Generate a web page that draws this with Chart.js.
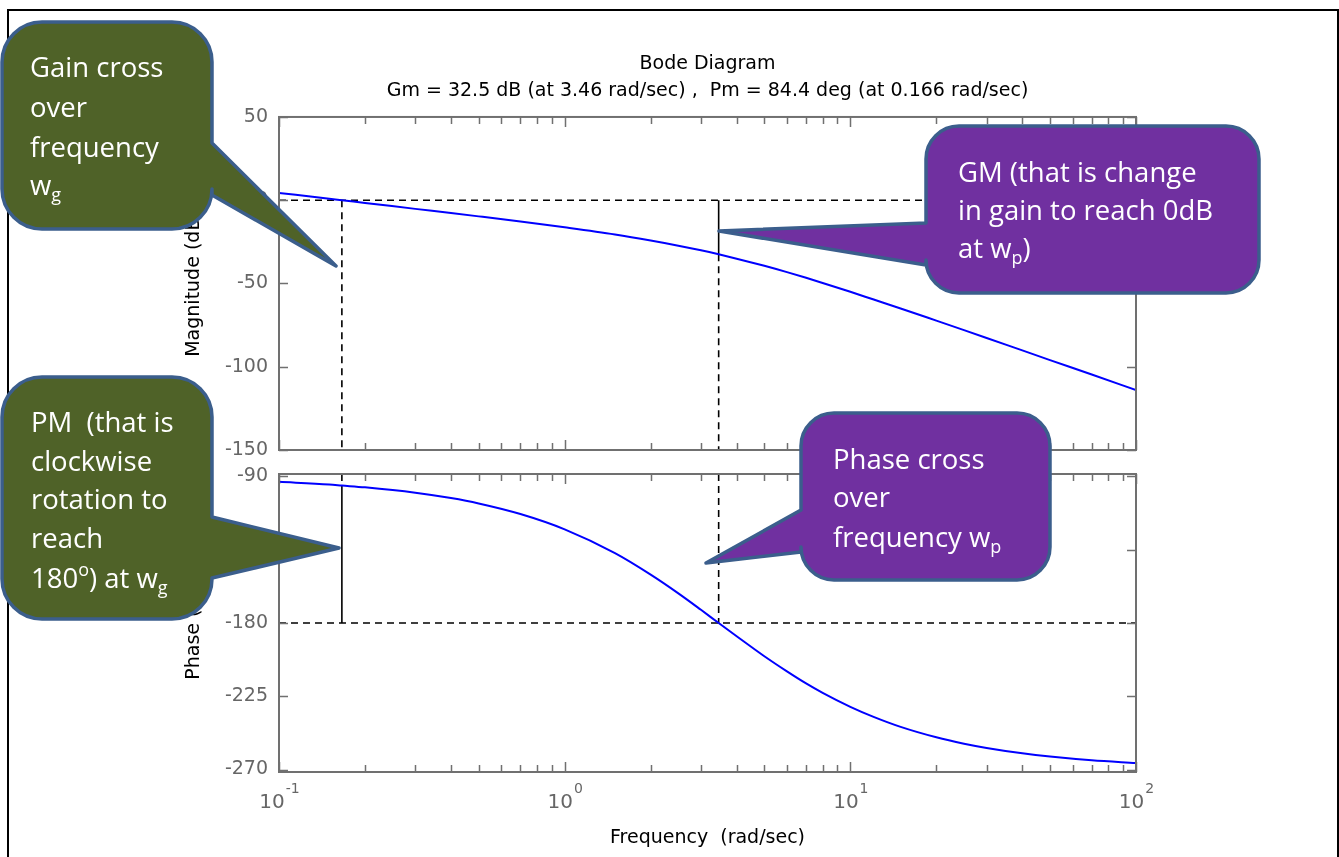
<!DOCTYPE html>
<html>
<head>
<meta charset="utf-8">
<title>Bode Diagram</title>
<script src="https://cdn.jsdelivr.net/npm/chart.js@4.4.0/dist/chart.umd.min.js"></script>
<style>
  html, body { margin: 0; padding: 0; background: #fff; }
  #page { position: relative; width: 1339px; height: 857px; overflow: hidden; }
  #frame { position: absolute; left: 7px; top: 9px; width: 1332px; height: 900px;
           border: 2px solid #000; box-sizing: border-box; }
  #magChart { position: absolute; left: 0; top: 0; }
  #phaseChart { position: absolute; left: 0; top: 440px; }
  #notes { position: absolute; left: 0; top: 0; }
  #notes text { font-family: "Open Sans", sans-serif; font-size: 27.5px; fill: #fff; white-space: pre; }
</style>
</head>
<body>
<div id="page">
  <div id="frame"></div>
  <canvas id="magChart" width="1339" height="475"></canvas>
  <canvas id="phaseChart" width="1339" height="417"></canvas>
  <svg id="notes" width="1339" height="857">
    <path id="noteGain" fill="#4f6228" stroke="#3b5e8c" stroke-width="3.5" stroke-linejoin="round"/>
    <path id="notePm" fill="#4f6228" stroke="#3b5e8c" stroke-width="3.5" stroke-linejoin="round"/>
    <path id="noteGm" fill="#7030a0" stroke="#3b5e8c" stroke-width="3.5" stroke-linejoin="round"/>
    <path id="notePhase" fill="#7030a0" stroke="#3b5e8c" stroke-width="3.5" stroke-linejoin="round"/>

    <text x="30" y="77">Gain cross</text>
    <text x="30" y="117">over</text>
    <text x="30" y="157">frequency</text>
    <text x="30" y="195">w<tspan font-size="18" dy="6">g</tspan></text>

    <text x="31" y="432">PM  (that is</text>
    <text x="31" y="471">clockwise</text>
    <text x="31" y="509">rotation to</text>
    <text x="31" y="548">reach</text>
    <text x="31" y="588">180<tspan font-size="18" dy="-12">o</tspan><tspan dy="12">) at w</tspan><tspan font-size="18" dy="6">g</tspan></text>

    <text x="958" y="182">GM (that is change</text>
    <text x="958" y="220">in gain to reach 0dB</text>
    <text x="958" y="258">at w<tspan font-size="18" dy="6">p</tspan><tspan dy="-6">)</tspan></text>

    <text x="833" y="469">Phase cross</text>
    <text x="833" y="507">over</text>
    <text x="833" y="547">frequency w<tspan font-size="18" dy="6">p</tspan></text>
  </svg>
</div>
<script>
// frequency response (rad/sec, dB, deg)
const freq     = [0.1, 0.15, 0.166, 0.2, 0.3, 0.4, 0.5, 0.7, 1, 1.5, 2, 2.5, 3, 3.46, 4, 5, 6, 7, 8, 10, 12, 15, 20, 25, 30, 40, 50, 70, 100];
const magDb    = [4.4, 0.9, 0.0, -1.6, -5.2, -7.7, -9.7, -12.8, -16.3, -20.6, -24.2, -27.3, -30.1, -32.5, -35.1, -39.4, -43.2, -46.6, -49.7, -55.0, -59.5, -65.0, -72.3, -78.0, -82.7, -90.2, -96.0, -104.7, -114.0];
const phaseDeg = [-93.3, -95.0, -95.6, -96.7, -100.0, -103.3, -106.6, -113.1, -122.5, -137.1, -150.3, -161.8, -171.9, -180.0, -188.1, -200.4, -209.7, -217.1, -222.9, -231.5, -237.5, -243.8, -250.2, -254.1, -256.7, -260.0, -262.0, -264.3, -266.0];

// stability margins
const gainMargin = 32.5, phaseCrossFreq = 3.46;
const phaseMargin = 84.4, gainCrossFreq = 0.166;

// axes
const magRange = [-150, 50];
const phaseRange = [-271.5, -88.5];
const magTicks = [-150, -100, -50, 0, 50];
const phaseTicks = [-270, -225, -180, -135, -90];
const decadeTicks = [0.1, 1, 10, 100];
const decadeExp = ['-1', '0', '1', '2'];
const titleLines = ['Bode Diagram', 'Gm = 32.5 dB (at 3.46 rad/sec) ,  Pm = 84.4 deg (at 0.166 rad/sec)'];

const minorTicks = [];
[0.1, 1, 10].forEach(d => { for (let m = 2; m <= 9; m++) minorTicks.push(d * m); });

const FONT = 'DejaVu Sans';
const GREY = '#666';

// MATLAB style box with inward ticks on all four sides
const matlabAxes = {
  id: 'matlabAxes',
  afterDraw(chart, args, opts) {
    const { ctx, chartArea: a, scales: { x, y } } = chart;
    ctx.save();
    ctx.strokeStyle = '#707070';
    ctx.lineWidth = 1.5;
    ctx.beginPath();
    minorTicks.forEach(v => {
      const px = Math.round(x.getPixelForValue(v)) + 0.5;
      ctx.moveTo(px, a.bottom); ctx.lineTo(px, a.bottom - 7);
      ctx.moveTo(px, a.top); ctx.lineTo(px, a.top + 7);
    });
    decadeTicks.forEach(v => {
      const px = Math.round(x.getPixelForValue(v)) + 0.5;
      ctx.moveTo(px, a.bottom); ctx.lineTo(px, a.bottom - 10);
      ctx.moveTo(px, a.top); ctx.lineTo(px, a.top + 10);
    });
    opts.yTicks.forEach(v => {
      const py = Math.round(y.getPixelForValue(v)) + 0.5;
      ctx.moveTo(a.left, py); ctx.lineTo(a.left + 9, py);
      ctx.moveTo(a.right, py); ctx.lineTo(a.right - 9, py);
    });
    ctx.stroke();
    ctx.lineWidth = 2;
    ctx.strokeRect(a.left, a.top, a.right - a.left, a.bottom - a.top);

    if (opts.decadeLabels) {
      ctx.fillStyle = GREY;
      ctx.textBaseline = 'alphabetic';
      ctx.textAlign = 'left';
      decadeTicks.forEach((v, i) => {
        const px = x.getPixelForValue(v);
        ctx.font = '20px "' + FONT + '"';
        const wb = ctx.measureText('10').width;
        ctx.font = '14px "' + FONT + '"';
        const we = ctx.measureText(decadeExp[i]).width;
        const left = px - (wb + we) / 2;
        ctx.font = '20px "' + FONT + '"';
        ctx.fillText('10', left, a.bottom + 36);
        ctx.font = '14px "' + FONT + '"';
        ctx.fillText(decadeExp[i], left + wb + 1, a.bottom + 21);
      });
    }
    ctx.restore();
  }
};

function seg(x0, y0, x1, y1, dashed) {
  return {
    data: [{ x: x0, y: y0 }, { x: x1, y: y1 }],
    borderColor: '#000',
    borderWidth: 1.6,
    borderDash: dashed ? [7, 5] : [],
    pointRadius: 0
  };
}

function yAxis(range, ticks, label) {
  return {
    min: range[0], max: range[1],
    afterBuildTicks: s => { s.ticks = ticks.map(v => ({ value: v })); },
    afterFit: s => { s.width = 96; },
    grid: { display: false, drawTicks: false },
    border: { display: false },
    ticks: { padding: 11, color: GREY, font: { family: FONT, size: 19 } },
    title: { display: true, text: label, color: '#000', padding: 0, font: { family: FONT, size: 19 } }
  };
}

const fMin = freq[0], fMax = freq[freq.length - 1];
const phaseAtWg = -180 + phaseMargin;

new Chart(document.getElementById('magChart'), {
  type: 'line',
  data: {
    datasets: [
      { data: freq.map((f, i) => ({ x: f, y: magDb[i] })), borderColor: '#0000ff', borderWidth: 2,
        pointRadius: 0, cubicInterpolationMode: 'monotone' },
      seg(fMin, 0, fMax, 0, true),
      seg(gainCrossFreq, 0, gainCrossFreq, magRange[0], true),
      seg(phaseCrossFreq, 0, phaseCrossFreq, -gainMargin, false),
      seg(phaseCrossFreq, -gainMargin, phaseCrossFreq, magRange[0], true)
    ]
  },
  options: {
    responsive: false,
    animation: false,
    devicePixelRatio: 1,
    layout: { padding: { top: 50.5, left: 183, right: 203, bottom: 0 } },
    plugins: {
      legend: { display: false },
      tooltip: { enabled: false },
      title: { display: true, text: titleLines, fullSize: false, color: '#000',
               font: { family: FONT, size: 19, weight: 'normal', lineHeight: 1.42 },
               padding: { top: 0, bottom: 12.5 } },
      matlabAxes: { yTicks: magTicks, decadeLabels: false }
    },
    scales: {
      x: { type: 'logarithmic', min: 0.1, max: 100,
           ticks: { display: false }, grid: { display: false, drawTicks: false }, border: { display: false },
           afterFit: s => { s.height = 25; } },
      y: yAxis(magRange, magTicks, 'Magnitude (dB)')
    }
  },
  plugins: [matlabAxes]
});

new Chart(document.getElementById('phaseChart'), {
  type: 'line',
  data: {
    datasets: [
      { data: freq.map((f, i) => ({ x: f, y: phaseDeg[i] })), borderColor: '#0000ff', borderWidth: 2,
        pointRadius: 0, cubicInterpolationMode: 'monotone' },
      seg(fMin, -180, fMax, -180, true),
      seg(gainCrossFreq, phaseRange[1], gainCrossFreq, phaseAtWg, true),
      seg(gainCrossFreq, phaseAtWg, gainCrossFreq, -180, false),
      seg(phaseCrossFreq, phaseRange[1], phaseCrossFreq, -180, true)
    ]
  },
  options: {
    responsive: false,
    animation: false,
    devicePixelRatio: 1,
    layout: { padding: { top: 34, left: 183, right: 203, bottom: 0 } },
    plugins: {
      legend: { display: false },
      tooltip: { enabled: false },
      matlabAxes: { yTicks: phaseTicks, decadeLabels: true }
    },
    scales: {
      x: { type: 'logarithmic', min: 0.1, max: 100,
           ticks: { display: false }, grid: { display: false, drawTicks: false }, border: { display: false },
           title: { display: true, text: 'Frequency  (rad/sec)', color: '#000',
                    padding: { top: 0, bottom: 7.6 }, font: { family: FONT, size: 19 } },
           afterFit: s => { s.height = 85; } },
      y: yAxis(phaseRange, phaseTicks, 'Phase (deg)')
    }
  },
  plugins: [matlabAxes]
});

// callout bubbles: rounded box with a pointer on one side
function callout(x0, y0, x1, y1, r, side, ya, yb, tx, ty) {
  const arc = (x, y) => ' A' + r + ' ' + r + ' 0 0 1 ' + x + ' ' + y;
  let d = 'M' + (x0 + r) + ' ' + y0 + ' H' + (x1 - r) + arc(x1, y0 + r);
  if (side === 'right') d += ' V' + ya + ' L' + tx + ' ' + ty + ' L' + x1 + ' ' + yb;
  d += ' V' + (y1 - r) + arc(x1 - r, y1) + ' H' + (x0 + r) + arc(x0, y1 - r);
  if (side === 'left') d += ' V' + yb + ' L' + tx + ' ' + ty + ' L' + x0 + ' ' + ya;
  d += ' V' + (y0 + r) + arc(x0 + r, y0) + ' Z';
  return d;
}
document.getElementById('noteGain').setAttribute('d', callout(2, 22, 212, 229, 40, 'right', 143, 195, 336, 266));
document.getElementById('notePm').setAttribute('d', callout(2, 377, 212, 619, 40, 'right', 517, 578, 339, 548));
document.getElementById('noteGm').setAttribute('d', callout(926, 126, 1259, 293, 33, 'left', 223, 265, 719, 231));
document.getElementById('notePhase').setAttribute('d', callout(801, 413, 1050, 580, 33, 'left', 510, 552, 706, 563));
</script>
</body>
</html>
